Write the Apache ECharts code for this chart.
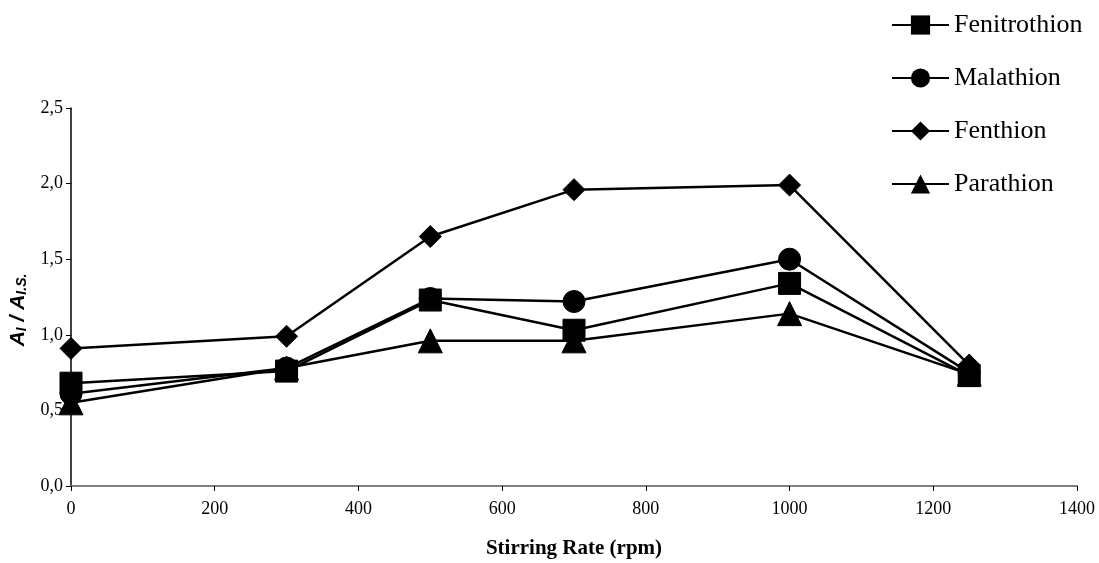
<!DOCTYPE html>
<html>
<head>
<meta charset="utf-8">
<script src="https://cdn.jsdelivr.net/npm/echarts@6/dist/echarts.min.js"></script>
<style>html,body{margin:0;padding:0;background:#fff}#c{width:1099px;height:563px}</style>
</head>
<body>
<div id="c"></div>
<script>
const rates = [0, 300, 500, 700, 1000, 1250];
const fenitrothion = [0.68, 0.76, 1.23, 1.03, 1.34, 0.73];
const malathion   = [0.61, 0.78, 1.24, 1.22, 1.50, 0.75];
const fenthion    = [0.91, 0.99, 1.65, 1.96, 1.99, 0.80];
const parathion   = [0.55, 0.78, 0.96, 0.96, 1.14, 0.74];
const seriesNames = ['Fenitrothion', 'Malathion', 'Fenthion', 'Parathion'];
const symbols = ['rect', 'circle', 'diamond', 'triangle'];
const values = [fenitrothion, malathion, fenthion, parathion];

const serif = '"Liberation Serif","Times New Roman",serif';
const sans = '"Liberation Sans",Arial,sans-serif';
const chart = echarts.init(document.getElementById('c'));
chart.setOption({
  animation: false,
  backgroundColor: '#fff',
  grid: {left: 71, right: 22, top: 108, bottom: 77, containLabel: false, outerBoundsMode: 'none'},
  legend: {
    orient: 'vertical', left: 886, top: 7,
    itemWidth: 57, itemHeight: 24, itemGap: 27,
    textStyle: {fontFamily: serif, fontSize: 26, lineHeight: 24, color: '#000'},
    data: seriesNames
  },
  xAxis: {
    type: 'value', min: 0, max: 1400, interval: 200,
    name: 'Stirring Rate (rpm)', nameLocation: 'middle', nameGap: 52,
    nameTextStyle: {fontFamily: serif, fontSize: 21, fontWeight: 'bold', color: '#000'},
    axisLine: {lineStyle: {color: '#808080', width: 2}},
    axisTick: {length: 5, lineStyle: {color: '#000'}},
    axisLabel: {fontFamily: serif, fontSize: 18, color: '#000', margin: 14,
      formatter: v => String(v)},
    splitLine: {show: false}
  },
  yAxis: {
    type: 'value', min: 0, max: 2.5, interval: 0.5,
    name: '{a|A}{s|I}{a| / A}{s|I.S.}', nameLocation: 'middle', nameGap: 40,
    nameTextStyle: {
      padding: [0, 26, 0, 0],
      rich: {
        a: {fontFamily: sans, fontSize: 21, fontWeight: 'bold', fontStyle: 'italic', color: '#000'},
        s: {fontFamily: sans, fontSize: 14, fontWeight: 'bold', fontStyle: 'italic', color: '#000', verticalAlign: 'bottom', padding: [9,0,0,0]}
      }
    },
    axisLine: {show: true, lineStyle: {color: '#000', width: 1.5}},
    axisTick: {show: true, length: 5, lineStyle: {color: '#000'}},
    axisLabel: {fontFamily: serif, fontSize: 18, color: '#000', margin: 8,
      formatter: v => v.toFixed(1).replace('.', ',')},
    splitLine: {show: false}
  },
  series: seriesNames.map((n, i) => ({
    name: n, type: 'line',
    data: rates.map((r, j) => [r, values[i][j]]),
    symbol: symbols[i], symbolSize: i === 3 ? 24 : 22,
    lineStyle: {color: '#000', width: 2.5},
    itemStyle: {color: '#000', borderColor: '#000'},
    z: 10 - i
  }))
});
</script>
</body>
</html>
